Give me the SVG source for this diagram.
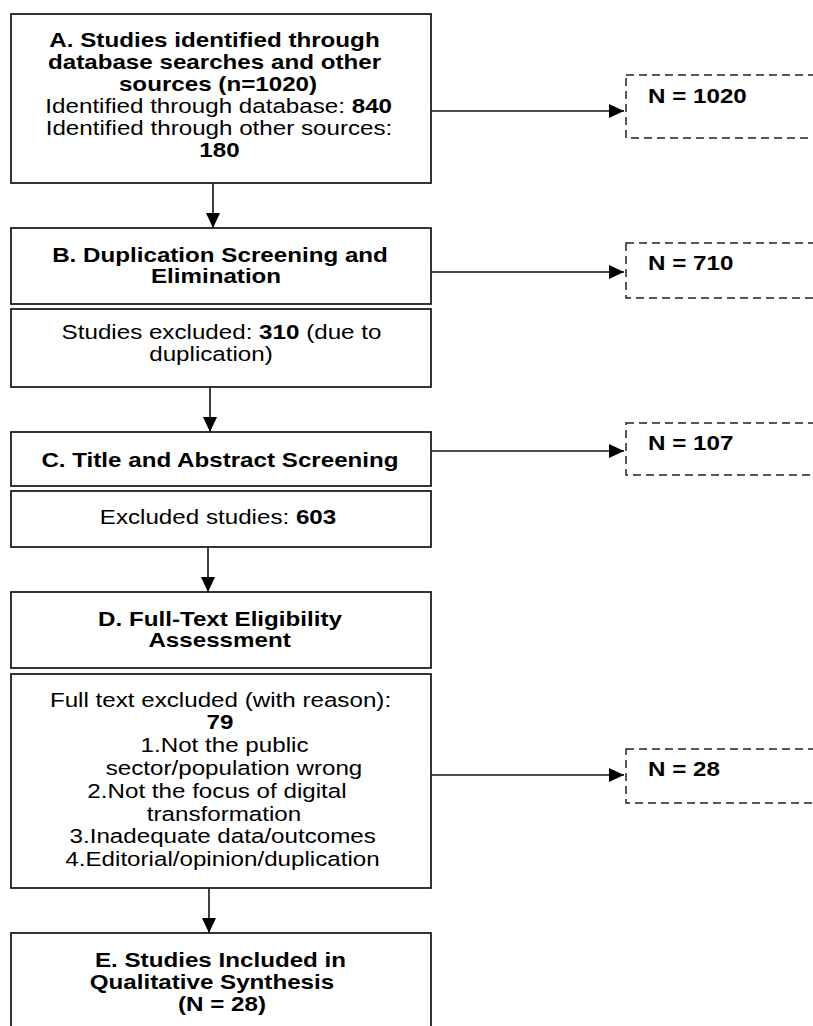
<svg xmlns="http://www.w3.org/2000/svg" width="813" height="1026" viewBox="0 0 813 1026">
<style>
.box{fill:#fff;stroke:#1e1e1e;stroke-width:1.8}
.dbox{fill:#fff;stroke:#222;stroke-width:1.5;stroke-dasharray:8 5}
.t{font-family:"Liberation Sans",Arial,sans-serif;font-size:19.5px;fill:#000;text-anchor:middle}
.s{text-anchor:start}
.b{font-weight:bold}
.con{stroke:#111;stroke-width:1.6;fill:none}
</style>
<defs>
<marker id="ah" markerUnits="userSpaceOnUse" markerWidth="16" markerHeight="14" refX="15" refY="7" orient="auto">
<path d="M0,0 L15,7 L0,14 z" fill="#000"/>
</marker>
</defs>
<rect width="813" height="1026" fill="#fff"/>

<g id="connectors">
<line class="con" x1="213" y1="183" x2="213" y2="228" marker-end="url(#ah)"/>
<line class="con" x1="210" y1="387" x2="210" y2="432" marker-end="url(#ah)"/>
<line class="con" x1="208" y1="547" x2="208" y2="592" marker-end="url(#ah)"/>
<line class="con" x1="209" y1="888" x2="209" y2="933" marker-end="url(#ah)"/>
<line class="con" x1="431" y1="111" x2="624" y2="111" marker-end="url(#ah)"/>
<line class="con" x1="431" y1="272" x2="624" y2="272" marker-end="url(#ah)"/>
<line class="con" x1="431" y1="451" x2="624" y2="451" marker-end="url(#ah)"/>
<line class="con" x1="431" y1="775" x2="624" y2="775" marker-end="url(#ah)"/>
</g>

<g id="nodeA">
<rect class="box" x="11" y="14" width="420" height="169"/>
<text class="t b" transform="matrix(1.24 0 0 1 214.5 0)" y="47.3">A. Studies identified through</text>
<text class="t b" transform="matrix(1.24 0 0 1 214.5 0)" y="69.3">database searches and other</text>
<text class="t b" transform="matrix(1.24 0 0 1 218 0)" y="91">sources (n=1020)</text>
<text class="t" transform="matrix(1.24 0 0 1 218.7 0)" y="113">Identified through database: <tspan class="b">840</tspan></text>
<text class="t" transform="matrix(1.24 0 0 1 219 0)" y="135">Identified through other sources:</text>
<text class="t b" transform="matrix(1.24 0 0 1 219.5 0)" y="156.7">180</text>
</g>

<g id="nodeB">
<rect class="box" x="11" y="228" width="420" height="76"/>
<text class="t b" transform="matrix(1.24 0 0 1 220 0)" y="261.7">B. Duplication Screening and</text>
<text class="t b" transform="matrix(1.24 0 0 1 216 0)" y="283.3">Elimination</text>
</g>

<g id="nodeB2">
<rect class="box" x="11" y="309" width="420" height="78"/>
<text class="t" transform="matrix(1.24 0 0 1 221.5 0)" y="339.3">Studies excluded: <tspan class="b">310</tspan> (due to</text>
<text class="t" transform="matrix(1.24 0 0 1 211 0)" y="361">duplication)</text>
</g>

<g id="nodeC">
<rect class="box" x="11" y="432" width="420" height="54"/>
<text class="t b" transform="matrix(1.24 0 0 1 220 0)" y="467.3">C. Title and Abstract Screening</text>
</g>

<g id="nodeC2">
<rect class="box" x="11" y="491" width="420" height="56"/>
<text class="t" transform="matrix(1.24 0 0 1 218 0)" y="524">Excluded studies: <tspan class="b">603</tspan></text>
</g>

<g id="nodeD">
<rect class="box" x="11" y="592" width="420" height="76"/>
<text class="t b" transform="matrix(1.24 0 0 1 220 0)" y="625.7">D. Full-Text Eligibility</text>
<text class="t b" transform="matrix(1.24 0 0 1 219.6 0)" y="647.3">Assessment</text>
</g>

<g id="nodeD2">
<rect class="box" x="11" y="674" width="420" height="214"/>
<text class="t" transform="matrix(1.24 0 0 1 220.5 0)" y="706.7">Full text excluded (with reason):</text>
<text class="t b" transform="matrix(1.24 0 0 1 220 0)" y="729.3">79</text>
<text class="t" transform="matrix(1.24 0 0 1 224.5 0)" y="752.3">1.Not the public</text>
<text class="t" transform="matrix(1.24 0 0 1 234 0)" y="775">sector/population wrong</text>
<text class="t" transform="matrix(1.24 0 0 1 217 0)" y="798.3">2.Not the focus of digital</text>
<text class="t" transform="matrix(1.24 0 0 1 224 0)" y="820.7">transformation</text>
<text class="t" transform="matrix(1.24 0 0 1 222.7 0)" y="843.3">3.Inadequate data/outcomes</text>
<text class="t" transform="matrix(1.24 0 0 1 222.5 0)" y="866">4.Editorial/opinion/duplication</text>
</g>

<g id="nodeE">
<rect class="box" x="11" y="933" width="420" height="110"/>
<text class="t b" transform="matrix(1.24 0 0 1 220.5 0)" y="967.5">E. Studies Included in</text>
<text class="t b" transform="matrix(1.24 0 0 1 212 0)" y="989.5">Qualitative Synthesis</text>
<text class="t b" transform="matrix(1.24 0 0 1 222 0)" y="1011">(N = 28)</text>
</g>

<g id="nodeN1020">
<rect class="dbox" x="626" y="75" width="300" height="63"/>
<text class="t b s" transform="matrix(1.24 0 0 1 648 0)" y="103">N = 1020</text>
</g>
<g id="nodeN710">
<rect class="dbox" x="626" y="243" width="300" height="55"/>
<text class="t b s" transform="matrix(1.24 0 0 1 648 0)" y="270">N = 710</text>
</g>
<g id="nodeN107">
<rect class="dbox" x="626" y="423" width="300" height="52"/>
<text class="t b s" transform="matrix(1.24 0 0 1 648 0)" y="450">N = 107</text>
</g>
<g id="nodeN28">
<rect class="dbox" x="626" y="749" width="300" height="54"/>
<text class="t b s" transform="matrix(1.24 0 0 1 648 0)" y="776">N = 28</text>
</g>
</svg>
